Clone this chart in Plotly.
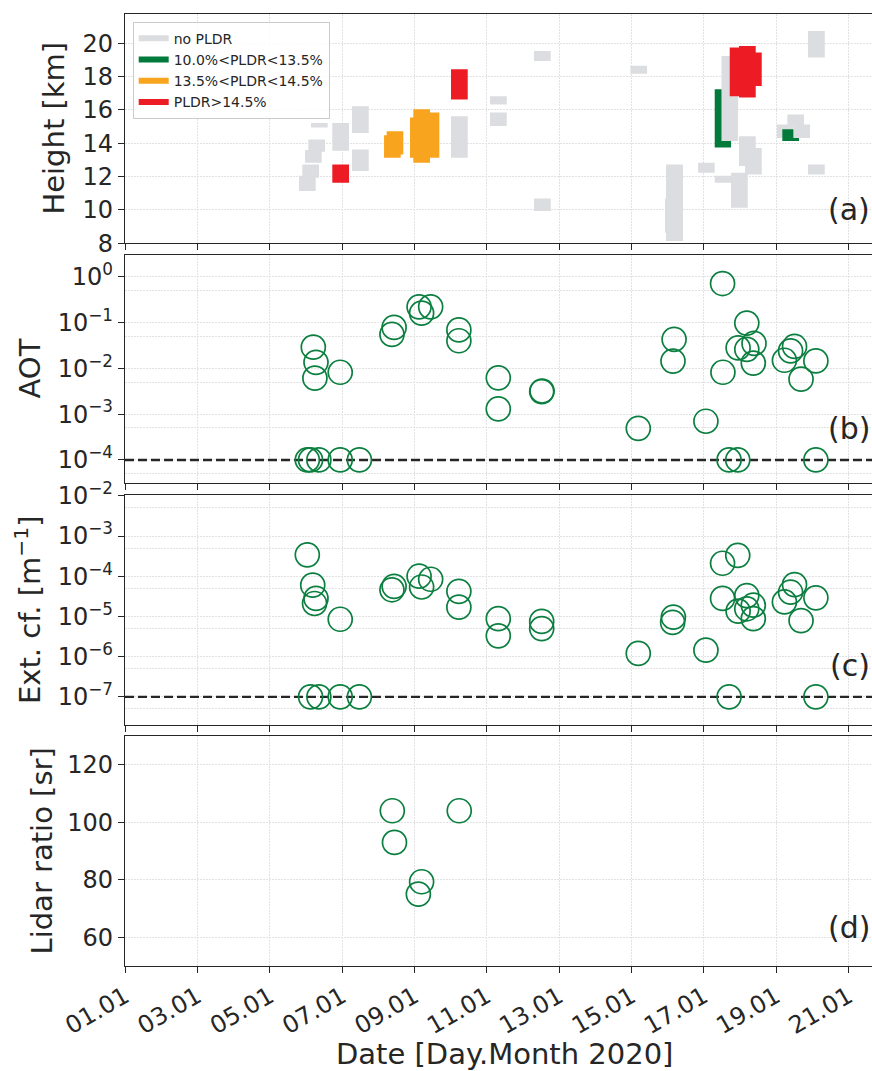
import numpy as np
import pandas as pd
import plotly.graph_objects as go
from plotly.subplots import make_subplots

# ------------------------------------------------------------------ data
# time given as fractional day of January 2020 (1.0 = 01.01 00:00)
# panel (a): layer blocks (class, start day, end day, base km, top km)
blk_class = ["none", "none", "none", "none", "none", "none", "high", "none", "none",
             "mid", "mid", "mid", "mid", "mid", "high", "none", "none", "none",
             "none", "none", "none", "none", "none", "none", "low", "none", "none",
             "none", "high", "high", "high", "none", "none", "none", "low", "none",
             "none", "none", "none"]
blk_t0 = [5.811, 5.902, 5.977, 6.068, 6.142, 6.731, 6.731, 7.276, 7.276,
          8.161, 8.235, 8.879, 8.971, 9.231, 10.013, 10.013, 11.091, 11.091,
          12.308, 12.308, 14.970, 15.930, 15.957, 16.842, 17.303, 17.303, 17.490,
          17.754, 17.718, 17.975, 18.141, 17.975, 18.141, 19.018, 19.172, 19.311,
          19.477, 19.883, 19.883]
blk_t1 = [6.272, 6.364, 6.438, 6.530, 6.604, 7.193, 7.193, 7.738, 7.738,
          8.622, 8.694, 9.341, 9.433, 9.690, 10.475, 10.475, 11.553, 11.553,
          12.770, 12.770, 15.432, 16.390, 16.427, 17.303, 17.754, 17.754, 17.950,
          18.216, 18.177, 18.437, 18.603, 18.437, 18.603, 19.477, 19.634, 19.773,
          19.939, 20.345, 20.345]
blk_z0 = [11.13, 11.93, 12.83, 13.49, 14.95, 13.55, 11.63, 14.62, 12.33,
          13.13, 13.33, 13.13, 12.83, 13.13, 16.62, 13.13, 16.32, 15.04,
          18.93, 9.93, 18.16, 8.63, 8.14, 12.23, 13.75, 11.63, 14.13,
          10.13, 16.82, 16.74, 17.44, 12.63, 12.13, 14.32, 14.14, 15.02,
          14.32, 19.14, 12.13]
blk_z1 = [12.05, 12.73, 13.59, 14.23, 15.22, 15.22, 12.73, 16.22, 13.63,
          14.48, 14.72, 15.55, 16.04, 15.84, 18.44, 15.62, 16.82, 15.84,
          19.53, 10.69, 18.64, 10.69, 12.73, 12.83, 17.24, 12.05, 19.23,
          12.23, 19.74, 19.83, 19.44, 14.42, 13.72, 15.12, 14.84, 15.72,
          15.12, 20.73, 12.73]
class_names = {"none": "no PLDR", "low": "10.0%<PLDR<13.5%",
               "mid": "13.5%<PLDR<14.5%", "high": "PLDR>14.5%"}

# panel (b): aerosol optical thickness
aot_day = [6.206, 6.28, 6.25, 6.95, 8.44, 8.38, 9.13, 9.20, 9.45, 10.23, 10.23,
           11.32, 11.32, 12.52, 12.53, 15.19, 16.18, 16.15, 17.06, 17.52, 17.53,
           18.19, 17.95, 18.19, 18.39, 18.37, 19.51, 19.40, 19.23, 20.10, 19.69,
           6.04, 6.13, 6.36, 6.95, 7.48, 17.70, 17.94, 20.10]
aot_val = [0.029, 0.0135, 0.0061, 0.0082, 0.078, 0.055, 0.22, 0.16, 0.22, 0.069, 0.040,
           0.0062, 0.0013, 0.0031, 0.0032, 0.00049, 0.043, 0.0144, 0.0007, 0.71, 0.0082,
           0.097, 0.028, 0.026, 0.035, 0.013, 0.030, 0.024, 0.015, 0.0145, 0.0058,
           1e-4, 1e-4, 1e-4, 1e-4, 1e-4, 1e-4, 1e-4, 1e-4]
aot_limit = 1e-4

# panel (c): extinction coefficient [1/m]
ext_day = [6.04, 6.19, 6.28, 6.24, 6.95, 8.44, 8.38, 9.13, 9.20, 9.45, 10.23, 10.23,
           11.32, 11.32, 12.52, 12.52, 15.19, 16.16, 16.14, 17.06, 17.52, 17.94, 17.52,
           18.19, 18.37, 17.95, 18.19, 18.37, 19.51, 19.40, 19.23, 20.10, 19.69,
           6.13, 6.36, 6.95, 7.48, 17.70, 20.10]
ext_val = [3.4e-4, 6.0e-5, 2.8e-5, 2.1e-5, 8.5e-6, 5.6e-5, 4.6e-5, 1.0e-4, 5.4e-5, 8.4e-5,
           4.2e-5, 1.7e-5, 8.8e-6, 3.3e-6, 7.5e-6, 5.0e-6, 1.2e-6, 9.6e-6, 7.1e-6, 1.45e-6,
           2.1e-4, 3.3e-4, 2.8e-5, 3.3e-5, 1.9e-5, 1.35e-5, 1.55e-5, 8.8e-6, 6.2e-5, 4.0e-5,
           2.3e-5, 2.9e-5, 7.9e-6, 1e-7, 1e-7, 1e-7, 1e-7, 1e-7, 1e-7]
ext_limit = 1e-7

# panel (d): lidar ratio [sr]
lr_day = [8.39, 8.45, 9.20, 9.11, 10.24]
lr_val = [104, 93, 79.3, 75, 104]

x_start, x_end = "2020-01-01 00:00", "2020-01-21 15:38"
aot_ticks = [1e0, 1e-1, 1e-2, 1e-3, 1e-4]
ext_ticks = [1e-2, 1e-3, 1e-4, 1e-5, 1e-6, 1e-7]

# ------------------------------------------------------------------ style
FONT = "DejaVu Sans"
INK = "#262626"
GREEN_PT = "#0b7f3f"
colors = {"none": "#dcdde0", "low": "#027a3c", "mid": "#f8a41f", "high": "#ed1c24"}
ranks = {"none": 1, "low": 2, "mid": 3, "high": 4}
GRID = "#e2e2e2"
GRID_DASH = "1.5px,1.5px"

BASE = pd.Timestamp("2020-01-01")


def to_time(days):
    return BASE + pd.to_timedelta(np.asarray(days, dtype=float) - 1.0, unit="D")


def sup_label(v):
    e = int(round(np.log10(v)))
    s = str(e) if e >= 0 else "\u2212" + str(-e)
    return "10<sup>" + s + "</sup>"


fig = make_subplots(rows=4, cols=1, shared_xaxes=True)

# panel (a) blocks
seen = set()
for c, t0, t1, z0, z1 in zip(blk_class, blk_t0, blk_t1, blk_z0, blk_z1):
    first = c not in seen
    seen.add(c)
    fig.add_trace(go.Scatter(
        x=to_time([t0, t1, t1, t0, t0]), y=[z0, z0, z1, z1, z0],
        fill="toself", mode="none", fillcolor=colors[c],
        name=class_names[c], showlegend=first, legendrank=ranks[c],
        hoverinfo="skip"), row=1, col=1)

marker = dict(symbol="circle-open", size=24, color=GREEN_PT,
              line=dict(width=1.7, color=GREEN_PT))
dash_line = dict(color=INK, width=2.4, dash="9px,4px")

# panel (b)
fig.add_trace(go.Scatter(x=[x_start, x_end], y=[aot_limit, aot_limit], mode="lines",
                         line=dash_line, showlegend=False, hoverinfo="skip"), row=2, col=1)
fig.add_trace(go.Scatter(x=to_time(aot_day), y=aot_val, mode="markers", marker=marker,
                         showlegend=False), row=2, col=1)
# panel (c)
fig.add_trace(go.Scatter(x=[x_start, x_end], y=[ext_limit, ext_limit], mode="lines",
                         line=dash_line, showlegend=False, hoverinfo="skip"), row=3, col=1)
fig.add_trace(go.Scatter(x=to_time(ext_day), y=ext_val, mode="markers", marker=marker,
                         showlegend=False), row=3, col=1)
# panel (d)
fig.add_trace(go.Scatter(x=to_time(lr_day), y=lr_val, mode="markers", marker=marker,
                         showlegend=False), row=4, col=1)

W, H = 872, 1071
MT, MB, ML, MR = 14, 105, 125, 0
PH = H - MT - MB
PW = W - ML - MR


def py(px):
    return (H - MB - px) / PH


def pxx(px):
    return (px - ML) / PW


panels = [(14, 243.3), (255, 483.3), (495, 725), (736, 966)]
axis_common = dict(showline=True, linecolor=INK, linewidth=1.3, ticks="outside",
                   ticklen=6, tickwidth=1.3, tickcolor=INK,
                   showgrid=True, gridcolor=GRID, griddash=GRID_DASH, gridwidth=1,
                   zeroline=False, automargin=False,
                   tickfont=dict(family=FONT, size=24, color=INK))

for i, (top, bot) in enumerate(panels, start=1):
    fig.update_yaxes(domain=[py(bot), py(top)], mirror=False, **axis_common, row=i, col=1)
    fig.update_xaxes(mirror=True, type="date", range=[x_start, x_end],
                     tick0="2020-01-01", dtick=2 * 86400000, tickformat="%d.%m",
                     tickangle=-30, **axis_common, row=i, col=1)

fig.update_xaxes(showticklabels=True, row=4, col=1)
fig.update_yaxes(range=[8, 21.75], tickvals=[8, 10, 12, 14, 16, 18, 20], row=1, col=1)
fig.update_yaxes(type="log", range=[-4.51, 0.474], tickvals=aot_ticks,
                 ticktext=[sup_label(v) for v in aot_ticks],
                 minor=dict(tickvals=[5 * v for v in aot_ticks] + [5e-5], showgrid=True,
                            gridcolor=GRID, griddash=GRID_DASH, ticks=""),
                 row=2, col=1)
fig.update_yaxes(type="log", range=[-7.70, -1.98], tickvals=ext_ticks,
                 ticktext=[sup_label(v) for v in ext_ticks],
                 minor=dict(tickvals=[5 * v for v in ext_ticks[1:]] + [5e-8], showgrid=True,
                            gridcolor=GRID, griddash=GRID_DASH, ticks=""),
                 row=3, col=1)
fig.update_yaxes(range=[50, 130], tickvals=[60, 80, 100, 120], row=4, col=1)

title_font = dict(family=FONT, size=29, color=INK)
annotations = [
    dict(text="Height [km]", x=pxx(54), y=py(128.6), textangle=-90),
    dict(text="AOT", x=pxx(29.5), y=py(369), textangle=-90),
    dict(text="Ext. cf. [m<sup>\u22121</sup>]", x=pxx(28), y=py(610), textangle=-90),
    dict(text="Lidar ratio [sr]", x=pxx(41.5), y=py(851), textangle=-90),
    dict(text="Date [Day.Month 2020]", x=pxx(504), y=py(1054), textangle=0),
]
for a in annotations:
    fig.add_annotation(xref="paper", yref="paper", showarrow=False,
                       xanchor="center", yanchor="middle", font=title_font, **a)
for lab, yc in zip(["(a)", "(b)", "(c)", "(d)"], [209, 428, 665, 927]):
    fig.add_annotation(text=lab, xref="paper", yref="paper", x=1.0, y=py(yc),
                       xanchor="right", yanchor="middle", showarrow=False,
                       font=dict(family=FONT, size=30, color=INK))

fig.update_layout(
    width=W, height=H,
    margin=dict(l=ML, r=MR, t=MT, b=MB),
    paper_bgcolor="white", plot_bgcolor="white",
    font=dict(family=FONT, color=INK),
    legend=dict(x=pxx(132.7), y=py(21.7), xanchor="left", yanchor="top",
                bgcolor="rgba(255,255,255,0.85)", bordercolor="#cccccc", borderwidth=1,
                font=dict(family=FONT, size=14, color=INK), traceorder="normal",
                tracegroupgap=0),
)

fig.write_html("out.html", config={"displayModeBar": False},
               post_script="document.body.style.margin='0';"
                           "document.body.style.padding='0';"
                           "document.documentElement.style.overflow='hidden';")
